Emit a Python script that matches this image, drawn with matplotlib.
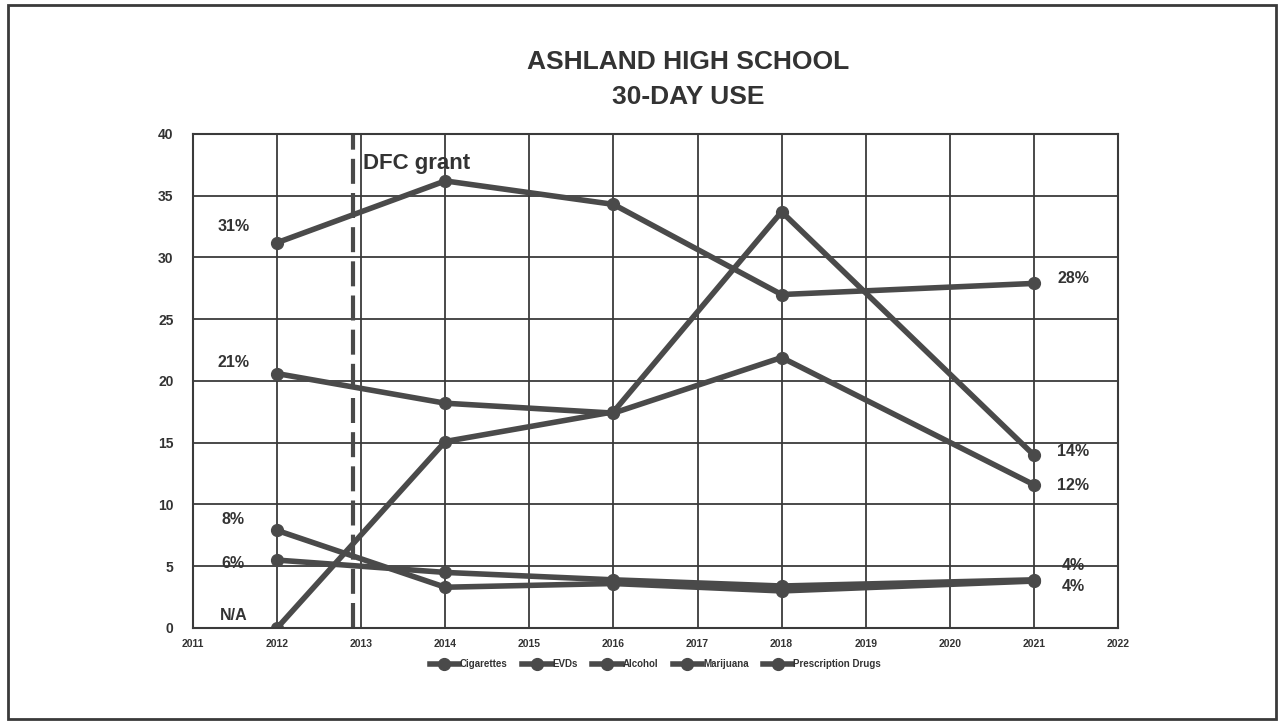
import matplotlib
matplotlib.use("Agg")
import matplotlib.pyplot as plt
from matplotlib.patches import Rectangle

plt.rcParams['font.family'] = ['Liberation Sans', 'DejaVu Sans']

# Survey years and 30-day use (%) per substance
years = [2012, 2014, 2016, 2018, 2021]
cigarettes = [7.9, 3.3, 3.6, 3.0, 3.8]
evds = [0.0, 15.1, 17.5, 33.7, 14.0]
alcohol = [31.2, 36.2, 34.3, 27.0, 27.9]
marijuana = [20.6, 18.2, 17.4, 21.9, 11.6]
prescription = [5.5, 4.5, 3.9, 3.4, 3.9]

series_names = ['Cigarettes', 'EVDs', 'Alcohol', 'Marijuana', 'Prescription Drugs']
series_values = [cigarettes, evds, alcohol, marijuana, prescription]

grant_year = 2012.9

# value labels at the start and end of the lines
left_labels = [('31%', 32.5), ('21%', 21.5), ('8%', 8.8), ('6%', 5.2), ('N/A', 1.0)]
right_labels = [('28%', 28.3), ('14%', 14.3), ('12%', 11.5), ('4%', 5.1), ('4%', 3.4)]

line_col = '#4a4a4a'

fig = plt.figure(figsize=(12.84, 7.25), dpi=100)
ax = fig.add_axes([0.1503, 0.1338, 0.7204, 0.6814])

for name, vals in zip(series_names, series_values):
    ax.plot(years, vals, color=line_col, linewidth=4, marker='o', markersize=8.5,
            label=name, solid_joinstyle='round')

ax.axvline(grant_year, color=line_col, linewidth=3, linestyle=(0, (6, 2.2)))
ax.text(grant_year + 0.12, 36.8, 'DFC grant', fontsize=16, fontweight='bold',
        color='#333333', va='bottom')

for txt, y in left_labels:
    ax.text(2011.48, y, txt, fontsize=11.5, fontweight='bold', color='#333333',
            ha='center', va='center')
for txt, y in right_labels:
    ax.text(2021.47, y, txt, fontsize=11.5, fontweight='bold', color='#333333',
            ha='center', va='center')

ax.set_xlim(2011, 2022)
ax.set_ylim(0, 40)
ax.set_xticks(range(2011, 2023))
ax.set_yticks(range(0, 41, 5))
ax.tick_params(axis='x', labelsize=7.5, length=0, pad=8)
ax.tick_params(axis='y', labelsize=10, length=0, pad=14)
for lab in ax.get_xticklabels() + ax.get_yticklabels():
    lab.set_fontweight('bold')
    lab.set_color('#333333')
ax.grid(True, color='#3a3a3a', linewidth=1.3)
ax.set_axisbelow(True)
for sp in ax.spines.values():
    sp.set_color('#3a3a3a')
    sp.set_linewidth(1.5)

fig.text(0.536, 0.914, 'ASHLAND HIGH SCHOOL', ha='center', va='center',
         fontsize=19, fontweight='bold', color='#333333')
fig.text(0.536, 0.866, '30-DAY USE', ha='center', va='center',
         fontsize=19, fontweight='bold', color='#333333')

leg = ax.legend(loc='upper center', bbox_to_anchor=(0.5, -0.045), ncol=5,
                frameon=False, fontsize=7, handlelength=3, columnspacing=1.5,
                handletextpad=0.1)
for t in leg.get_texts():
    t.set_color('#333333')
    t.set_fontweight('bold')

fig.patches.append(Rectangle((0.006, 0.008), 0.988, 0.985, transform=fig.transFigure,
                             fill=False, edgecolor='#3a3a3a', linewidth=2))

fig.savefig('out.png', dpi=100)
